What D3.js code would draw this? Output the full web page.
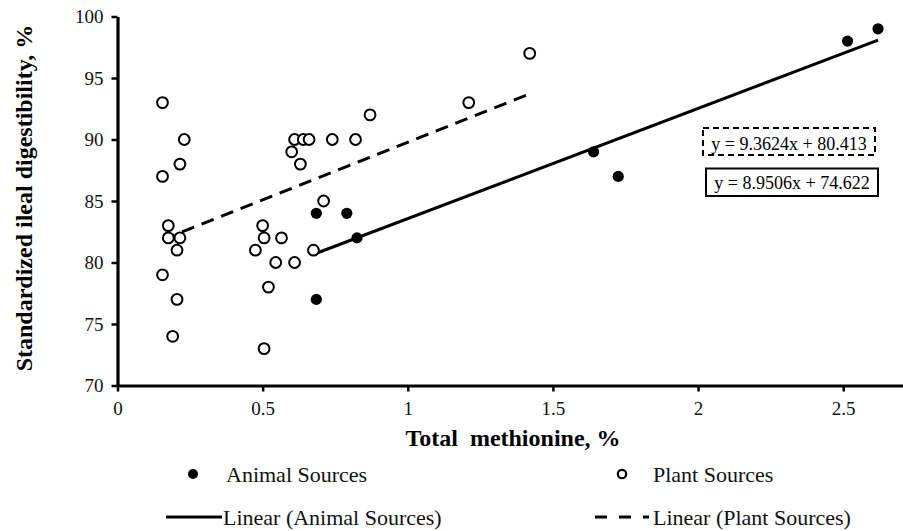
<!DOCTYPE html>
<html>
<head>
<meta charset="utf-8">
<script src="https://cdn.jsdelivr.net/npm/d3@7"></script>
<style>
  html, body { margin: 0; padding: 0; background: #fff; }
  svg { display: block; font-family: "Liberation Serif", "Times New Roman", serif; }
</style>
</head>
<body>
<svg id="chart" width="903" height="531"></svg>
<script>
// Animal protein sources: total methionine (%) vs SID (%)
const animalX = [0.685, 0.79, 0.825, 0.685, 1.64, 1.725, 2.515, 2.62];
const animalY = [84, 84, 82, 77, 89, 87, 98, 99];

// Plant protein sources
const plantX = [0.155, 0.23, 0.215, 0.155, 0.175, 0.175, 0.215, 0.205, 0.155, 0.205, 0.19,
                0.87, 0.61, 0.64, 0.66, 0.74, 0.82, 0.60, 0.63, 0.71, 0.50, 0.505, 0.565,
                0.475, 0.675, 0.545, 0.61, 0.52, 0.505, 1.21, 1.42];
const plantY = [93, 90, 88, 87, 83, 82, 82, 81, 79, 77, 74,
                92, 90, 90, 90, 90, 90, 89, 88, 85, 83, 82, 82,
                81, 81, 80, 80, 78, 73, 93, 97];

// Linear fits: [slope, intercept]
const animalFit = [8.9506, 74.622];
const plantFit = [9.3624, 80.413];

// Axis ticks
const xTicks = [0, 0.5, 1, 1.5, 2, 2.5];
const xTickLabels = ["0", "0.5", "1", "1.5", "2", "2.5"];
const yTicks = [70, 75, 80, 85, 90, 95, 100];
const yTickLabels = ["70", "75", "80", "85", "90", "95", "100"];

const svg = d3.select("#chart");

const x = d3.scaleLinear().domain([0, 2.706]).range([117.5, 903]);
const y = d3.scaleLinear().domain([70, 100]).range([385.5, 16.5]);

// Axes
const xAxis = d3.axisBottom(x)
  .tickValues(xTicks)
  .tickFormat((d, i) => xTickLabels[i])
  .tickSizeInner(6).tickSizeOuter(0).tickPadding(10);
const yAxis = d3.axisLeft(y)
  .tickValues(yTicks)
  .tickFormat((d, i) => yTickLabels[i])
  .tickSizeInner(6).tickSizeOuter(0).tickPadding(8);

function styleAxis(g) {
  g.attr("font-family", null);
  g.select(".domain").attr("stroke", "#000").attr("stroke-width", 3.2);
  g.selectAll(".tick line").attr("stroke", "#000").attr("stroke-width", 2.5);
  g.selectAll(".tick text")
    .attr("fill", "#111")
    .style("font-family", '"Liberation Serif", "Times New Roman", serif')
    .style("font-size", "19px");
}

svg.append("g").attr("transform", `translate(0,${y(70)})`).call(xAxis).call(styleAxis);
svg.append("g").attr("transform", `translate(${x(0)},0)`).call(yAxis).call(styleAxis);

// Axis titles
svg.append("text")
  .attr("x", 513).attr("y", 446)
  .attr("text-anchor", "middle")
  .style("white-space", "pre")
  .attr("font-weight", "bold").attr("font-size", 24)
  .text("Total  methionine, %");

svg.append("text")
  .attr("transform", "translate(32,198) rotate(-90)")
  .attr("text-anchor", "middle")
  .attr("font-weight", "bold").attr("font-size", 24)
  .text("Standardized ileal digestibility, %");

// Trend lines
function fitLine(xs, fit) {
  const [x0, x1] = d3.extent(xs);
  return [[x0, fit[0] * x0 + fit[1]], [x1, fit[0] * x1 + fit[1]]];
}
const line = d3.line().x(d => x(d[0])).y(d => y(d[1]));

svg.append("path")
  .attr("d", line(fitLine(plantX, plantFit)))
  .attr("fill", "none").attr("stroke", "#000").attr("stroke-width", 3)
  .attr("stroke-dasharray", "13,8");

svg.append("path")
  .attr("d", line(fitLine(animalX, animalFit)))
  .attr("fill", "none").attr("stroke", "#000").attr("stroke-width", 3);

// Points
const plantPts = plantX.map((v, i) => [v, plantY[i]]);
const animalPts = animalX.map((v, i) => [v, animalY[i]]);

svg.append("g").selectAll("circle").data(plantPts).join("circle")
  .attr("cx", d => x(d[0])).attr("cy", d => y(d[1])).attr("r", 5.4)
  .attr("fill", "#fff").attr("stroke", "#000").attr("stroke-width", 2);

svg.append("g").selectAll("circle").data(animalPts).join("circle")
  .attr("cx", d => x(d[0])).attr("cy", d => y(d[1])).attr("r", 5.6)
  .attr("fill", "#000");

// Equation boxes
const fmt = f => `y = ${f[0]}x + ${f[1]}`;
svg.append("rect")
  .attr("x", 703).attr("y", 128).attr("width", 172).attr("height", 27)
  .attr("fill", "#fff").attr("stroke", "#000").attr("stroke-width", 2)
  .attr("stroke-dasharray", "6,4");
svg.append("text")
  .attr("x", 789).attr("y", 149.5).attr("text-anchor", "middle")
  .attr("font-size", 18).text(fmt(plantFit));

svg.append("rect")
  .attr("x", 706).attr("y", 168.5).attr("width", 172).attr("height", 27.5)
  .attr("fill", "#fff").attr("stroke", "#000").attr("stroke-width", 2);
svg.append("text")
  .attr("x", 792).attr("y", 188.5).attr("text-anchor", "middle")
  .attr("font-size", 18).text(fmt(animalFit));

// Legend
const lg = svg.append("g").attr("font-size", 22).attr("fill", "#111");
lg.append("circle").attr("cx", 193).attr("cy", 474).attr("r", 5).attr("fill", "#000");
lg.append("text").attr("x", 226).attr("y", 481.5).text("Animal Sources");

lg.append("circle").attr("cx", 622).attr("cy", 474).attr("r", 4.2)
  .attr("fill", "#fff").attr("stroke", "#000").attr("stroke-width", 2.2);
lg.append("text").attr("x", 653).attr("y", 481.5).text("Plant Sources");

lg.append("line").attr("x1", 166).attr("x2", 222).attr("y1", 517).attr("y2", 517)
  .attr("stroke", "#000").attr("stroke-width", 3);
lg.append("text").attr("x", 223).attr("y", 525).text("Linear (Animal Sources)");

lg.append("line").attr("x1", 595).attr("x2", 649).attr("y1", 517).attr("y2", 517)
  .attr("stroke", "#000").attr("stroke-width", 3).attr("stroke-dasharray", "12,12");
lg.append("text").attr("x", 653).attr("y", 525).text("Linear (Plant Sources)");
</script>
</body>
</html>
